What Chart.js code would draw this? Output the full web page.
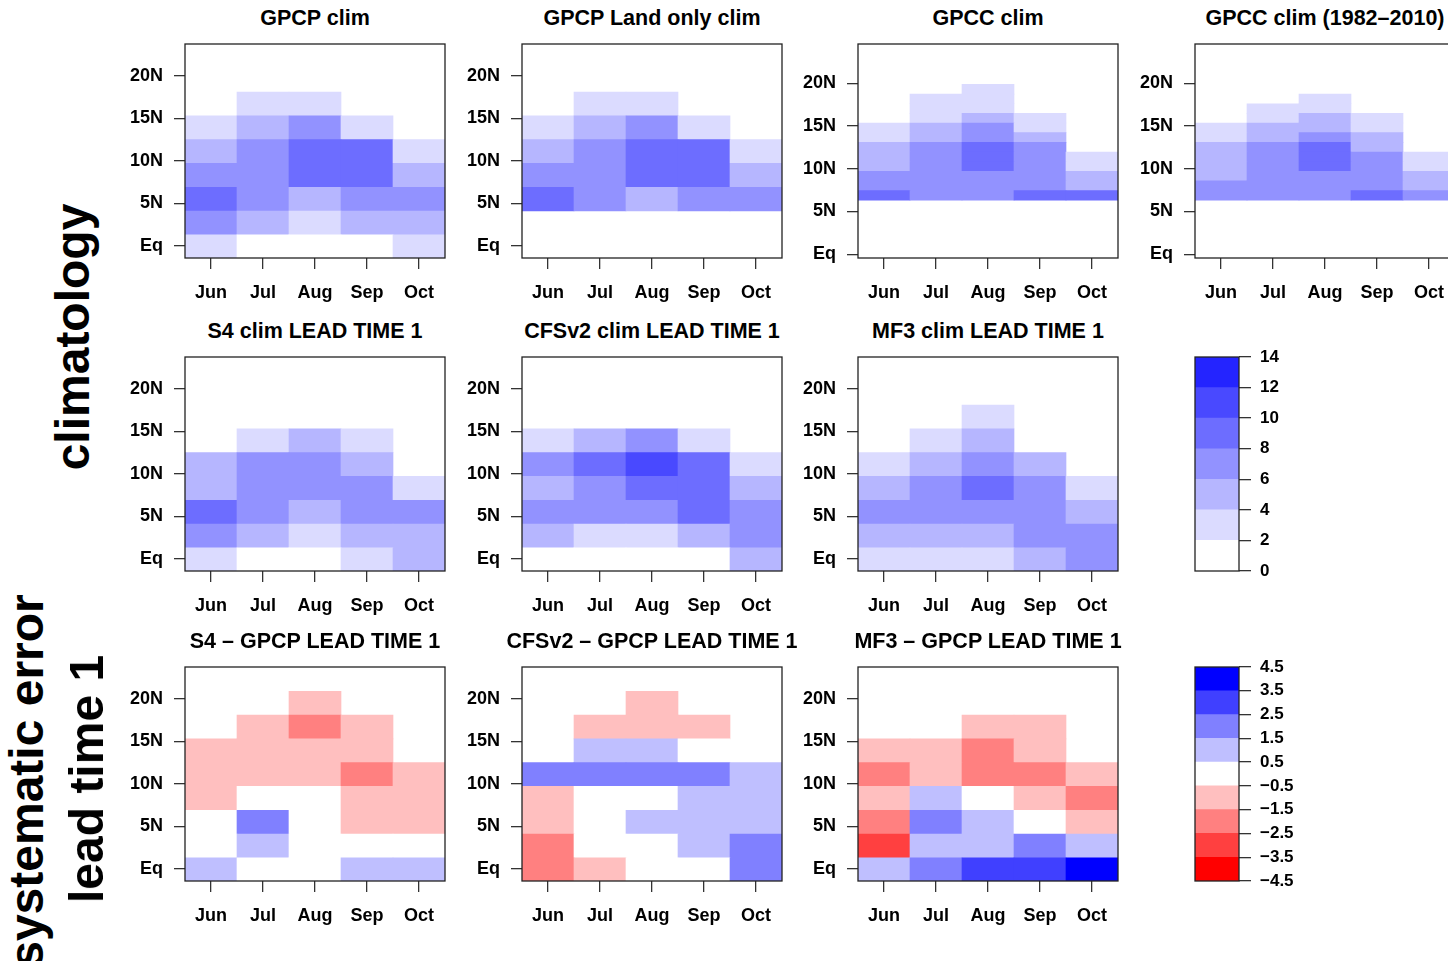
<!DOCTYPE html>
<html><head><meta charset="utf-8">
<script src="https://cdn.jsdelivr.net/npm/chart.js@4.4.1/dist/chart.umd.min.js"></script>
<style>
html,body{margin:0;padding:0;background:#fff;overflow:hidden;width:1448px;height:961px;}
#wrap{position:relative;width:1448px;height:961px;overflow:hidden;font-family:'Liberation Sans',Arial,Helvetica,sans-serif;}
canvas{position:absolute;}
.ttl{position:absolute;width:400px;text-align:center;font-weight:bold;font-size:21.5px;line-height:21px;white-space:nowrap;color:#000;}
.side{position:absolute;font-weight:bold;font-size:48px;line-height:48px;white-space:nowrap;transform:translate(-50%,-50%) rotate(-90deg);color:#000;}
</style></head><body><div id="wrap"></div>
<script>
// ---------------- data ----------------
const months = ['Jun', 'Jul', 'Aug', 'Sep', 'Oct'];
const latTickValues = [0, 5, 10, 15, 20];
const latTickLabels = ['Eq', '5N', '10N', '15N', '20N'];
// latitude band edges (degrees N)
const gpcpRowEdges = [-1.47, 1.32, 4.11, 6.90, 9.69, 12.48, 15.27, 18.06, 20.85];
const gpccRowEdges = [6.31, 7.44, 8.57, 9.70, 10.83, 11.96, 13.09, 14.22, 15.35, 16.48, 17.61, 18.74, 19.87];
// colour classes
const climBreaks = [0, 2, 4, 6, 8, 10, 12, 14];
const climColors = ['#ffffff', '#dbdbff', '#b6b6ff', '#9292ff', '#6d6dff', '#4949ff', '#2424ff'];
const climTickLabels = ['0', '2', '4', '6', '8', '10', '12', '14'];
const errBreaks = [-4.5, -3.5, -2.5, -1.5, -0.5, 0.5, 1.5, 2.5, 3.5, 4.5];
const errColors = ['#ff0000', '#ff4040', '#ff8080', '#ffbfbf', '#ffffff', '#bfbfff', '#8080ff', '#4040ff', '#0000ff'];
const errTickLabels = ['\u22124.5', '\u22123.5', '\u22122.5', '\u22121.5', '\u22120.5', '0.5', '1.5', '2.5', '3.5', '4.5'];

// values per month (Jun..Oct), each listed from the southernmost band northwards; null = no data
const gpcpClim = [
  [3, 7, 9, 7, 5, 3, null],
  [1, 5, 7, 7, 7, 5, 3],
  [1, 3, 5, 9, 9, 7, 3],
  [1, 5, 7, 9, 9, 3, null],
  [3, 5, 7, 5, 3, null, null]
];
const gpcpLandClim = [
  [null, null, 9, 7, 5, 3, null],
  [null, null, 7, 7, 7, 5, 3],
  [null, null, 5, 9, 9, 7, 3],
  [null, null, 7, 9, 9, 3, null],
  [null, null, 7, 5, 3, null, null]
];
const gpccClim = [
  [9, 7, 7, 5, 5, 5, 3, 3, null, null, null, null],
  [7, 7, 7, 7, 7, 7, 5, 5, 3, 3, 3, null],
  [7, 7, 7, 9, 9, 9, 7, 7, 5, 3, 3, 3],
  [9, 7, 7, 7, 7, 7, 5, 3, 3, null, null, null],
  [9, 5, 5, 3, 3, null, null, null, null, null, null, null]
];
const gpccClim8210 = [
  [7, 7, 5, 5, 5, 5, 3, 3, null, null, null, null],
  [7, 7, 7, 7, 7, 7, 5, 5, 3, 3, null, null],
  [7, 7, 7, 9, 9, 9, 7, 5, 5, 3, 3, null],
  [9, 7, 7, 7, 7, 5, 5, 3, 3, null, null, null],
  [7, 5, 5, 3, 3, null, null, null, null, null, null, null]
];
const s4Clim = [
  [3, 7, 9, 5, 5, null, null],
  [1, 5, 7, 7, 7, 3, null],
  [1, 3, 5, 7, 7, 5, null],
  [3, 5, 7, 7, 5, 3, null],
  [5, 5, 7, 3, null, null, null]
];
const cfsClim = [
  [1, 5, 7, 5, 7, 3, null],
  [1, 3, 7, 7, 9, 5, null],
  [1, 3, 7, 9, 11, 7, null],
  [1, 5, 9, 9, 9, 3, null],
  [5, 7, 7, 5, 3, null, null]
];
const mf3Clim = [
  [3, 5, 7, 5, 3, null, null],
  [3, 5, 7, 7, 5, 3, null],
  [3, 5, 7, 9, 7, 5, 3],
  [5, 7, 7, 7, 5, null, null],
  [7, 7, 5, 3, null, null, null]
];
const s4Err = [
  [1, 0, 0, -1, -1, -1, null, null],
  [0, 1, 2, 0, -1, -1, -1, null],
  [0, 0, 0, 0, -1, -1, -2, -1],
  [1, 0, -1, -1, -2, -1, -1, null],
  [1, 0, -1, -1, -1, null, null, null]
];
const cfsErr = [
  [-2, -2, -1, -1, 2, null, null, null],
  [-1, 0, 0, 0, 2, 1, -1, null],
  [0, 0, 1, 0, 2, 1, -1, -1],
  [0, 1, 1, 1, 2, 0, -1, null],
  [2, 2, 1, 1, 1, null, null, null]
];
const mf3Err = [
  [1, -3, -2, -1, -2, -1, null, null],
  [2, 1, 2, 1, -1, -1, null, null],
  [3, 1, 1, 0, -2, -2, -1, null],
  [3, 2, 0, -1, -2, -1, -1, null],
  [4, 1, -1, -2, -1, null, null, null]
];

// ---------------- drawing ----------------
Chart.defaults.font.family = "'Liberation Sans', Arial, Helvetica, sans-serif";
Chart.defaults.font.weight = 'bold';
Chart.defaults.font.size = 18;
Chart.defaults.color = '#000';

const wrap = document.getElementById('wrap');
const frame = {
  id: 'frame',
  afterDraw(chart) {
    const a = chart.chartArea, c = chart.ctx;
    c.save(); c.strokeStyle = '#222'; c.lineWidth = 1.3;
    c.strokeRect(a.left, a.top, a.right - a.left, a.bottom - a.top);
    c.restore();
  }
};

function classColor(v, breaks, colors) {
  for (let i = 0; i < colors.length; i++) {
    if (v >= breaks[i] && v < breaks[i + 1]) return colors[i];
  }
  return v < breaks[0] ? colors[0] : colors[colors.length - 1];
}

function makeCanvas(left, top, w, h) {
  const cv = document.createElement('canvas');
  cv.width = w; cv.height = h;
  cv.style.left = left + 'px'; cv.style.top = top + 'px';
  cv.style.width = w + 'px'; cv.style.height = h + 'px';
  wrap.appendChild(cv);
  return cv;
}

function noPad(s) { s.paddingTop = 0; s.paddingBottom = 0; s.paddingLeft = 0; s.paddingRight = 0; }

const boxLeft = [185, 522, 858, 1195];
const boxTop = [44, 357, 667];
const BOXW = 260, BOXH = 214;
const YW = 80, XH = 60, PT = 6, PR = 6;

function addTitle(text, col, row) {
  const d = document.createElement('div');
  d.className = 'ttl';
  d.textContent = text;
  d.style.left = (boxLeft[col] + BOXW / 2 - 200) + 'px';
  d.style.top = (boxTop[row] - 25 - 11.5) + 'px';
  wrap.appendChild(d);
}

function heatPanel(title, col, row, vals, edges, breaks, colors, yMin, yMax) {
  addTitle(title, col, row);
  const cv = makeCanvas(boxLeft[col] - YW, boxTop[row] - PT, YW + BOXW + PR, PT + BOXH + XH);
  const nRows = edges.length - 1;
  const datasets = [];
  for (let r = 0; r < nRows; r++) {
    datasets.push({
      data: months.map((m, j) => (vals[j][r] == null ? null : [edges[r], edges[r + 1]])),
      backgroundColor: months.map((m, j) => (vals[j][r] == null ? 'rgba(0,0,0,0)' : classColor(vals[j][r], breaks, colors))),
      borderWidth: 0,
      barPercentage: 1,
      categoryPercentage: 1,
      grouped: false
    });
  }
  new Chart(cv, {
    type: 'bar',
    data: { labels: months, datasets },
    options: {
      responsive: false, animation: false, devicePixelRatio: 1,
      layout: { padding: { top: PT, right: PR, left: 0, bottom: 0 } },
      plugins: { legend: { display: false }, tooltip: { enabled: false } },
      scales: {
        x: {
          type: 'category', offset: true,
          grid: { display: true, drawOnChartArea: false, drawTicks: true, tickLength: 11, offset: false, color: '#333', lineWidth: 1.3 },
          border: { display: false },
          ticks: { padding: 13, autoSkip: false, maxRotation: 0, minRotation: 0 },
          afterFit(s) { s.height = XH; noPad(s); }
        },
        y: {
          type: 'linear', min: yMin, max: yMax,
          grid: { display: true, drawOnChartArea: false, drawTicks: true, tickLength: 11, color: '#333', lineWidth: 1.3 },
          border: { display: false },
          afterBuildTicks(s) { s.ticks = latTickValues.map(v => ({ value: v })); },
          ticks: { padding: 11, autoSkip: false, callback: (v) => latTickLabels[latTickValues.indexOf(v)] },
          afterFit(s) { s.width = YW; noPad(s); }
        }
      }
    },
    plugins: [frame]
  });
}

function colorBar(row, breaks, colors, labels) {
  const top = boxTop[row];
  const CBW = 44, RW = 60, PL = 6, PV = 12;
  const cv = makeCanvas(1195 - PL, top - PV, PL + CBW + RW, PV * 2 + BOXH);
  const datasets = colors.map((c, i) => ({
    data: [[breaks[i], breaks[i + 1]]],
    backgroundColor: c, borderWidth: 0, barPercentage: 1, categoryPercentage: 1, grouped: false
  }));
  new Chart(cv, {
    type: 'bar',
    data: { labels: [''], datasets },
    options: {
      responsive: false, animation: false, devicePixelRatio: 1,
      layout: { padding: { top: PV, bottom: PV, left: PL, right: 0 } },
      plugins: { legend: { display: false }, tooltip: { enabled: false } },
      scales: {
        x: { display: false, offset: true },
        y: {
          position: 'right', min: breaks[0], max: breaks[breaks.length - 1],
          grid: { display: true, drawOnChartArea: false, drawTicks: true, tickLength: 12, color: '#333', lineWidth: 1.3 },
          border: { display: false },
          afterBuildTicks(s) { s.ticks = breaks.map(v => ({ value: v })); },
          ticks: { padding: 9, autoSkip: false, font: { size: 17 }, callback: (v) => labels[breaks.indexOf(v)] },
          afterFit(s) { s.width = RW; noPad(s); }
        }
      }
    },
    plugins: [frame]
  });
}

const GP = [-1.4, 23.7];
const GC = [-0.45, 24.6];
heatPanel('GPCP clim', 0, 0, gpcpClim, gpcpRowEdges, climBreaks, climColors, GP[0], GP[1]);
heatPanel('GPCP Land only clim', 1, 0, gpcpLandClim, gpcpRowEdges, climBreaks, climColors, GP[0], GP[1]);
heatPanel('GPCC clim', 2, 0, gpccClim, gpccRowEdges, climBreaks, climColors, GC[0], GC[1]);
heatPanel('GPCC clim (1982\u20132010)', 3, 0, gpccClim8210, gpccRowEdges, climBreaks, climColors, GC[0], GC[1]);
heatPanel('S4 clim LEAD TIME 1', 0, 1, s4Clim, gpcpRowEdges, climBreaks, climColors, GP[0], GP[1]);
heatPanel('CFSv2 clim LEAD TIME 1', 1, 1, cfsClim, gpcpRowEdges, climBreaks, climColors, GP[0], GP[1]);
heatPanel('MF3 clim LEAD TIME 1', 2, 1, mf3Clim, gpcpRowEdges, climBreaks, climColors, GP[0], GP[1]);
heatPanel('S4 \u2013 GPCP LEAD TIME 1', 0, 2, s4Err, gpcpRowEdges, errBreaks, errColors, GP[0], GP[1]);
heatPanel('CFSv2 \u2013 GPCP LEAD TIME 1', 1, 2, cfsErr, gpcpRowEdges, errBreaks, errColors, GP[0], GP[1]);
heatPanel('MF3 \u2013 GPCP LEAD TIME 1', 2, 2, mf3Err, gpcpRowEdges, errBreaks, errColors, GP[0], GP[1]);
colorBar(1, climBreaks, climColors, climTickLabels);
colorBar(2, errBreaks, errColors, errTickLabels);

function sideLabel(text, cx, cy) {
  const d = document.createElement('div');
  d.className = 'side';
  d.textContent = text;
  d.style.left = cx + 'px';
  d.style.top = cy + 'px';
  wrap.appendChild(d);
}
sideLabel('climatology', 73, 337);
sideLabel('systematic error', 27, 781);
sideLabel('lead time 1', 87, 779);
</script></body></html>
